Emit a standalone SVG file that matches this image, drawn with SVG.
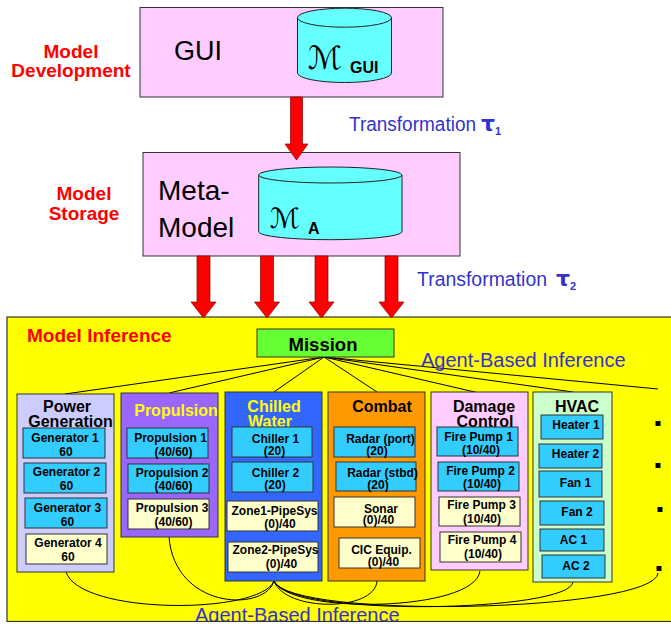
<svg xmlns="http://www.w3.org/2000/svg" width="671" height="624" viewBox="0 0 671 624">
<defs>
<style>
.t{font-family:"Liberation Sans",Arial,sans-serif}
.red{fill:#ff0000;font-weight:bold;font-size:19px;text-anchor:middle}
.blue{fill:#3333cc;font-size:20px}
.box{stroke:#333;stroke-width:1}
.pink{fill:#ffccff}
.cylf{fill:#66ffff;stroke:#222;stroke-width:1}
.arrow{fill:#ff0000;stroke:#8b0000;stroke-width:0.7}
.conn{fill:none;stroke:#000;stroke-width:1}
.col{stroke:#333;stroke-width:1}
.ttl{font-family:"Liberation Sans",Arial,sans-serif;font-weight:bold;font-size:16px;text-anchor:middle}
.it{font-family:"Liberation Sans",Arial,sans-serif;font-weight:bold;font-size:12px;text-anchor:middle;fill:#000}
.cy{fill:#33ccff;stroke:#333;stroke-width:1}
.ly{fill:#ffffcc;stroke:#333;stroke-width:1}
.scr{font-family:"DejaVu Sans",sans-serif}
.tau{font-family:"DejaVu Sans",sans-serif;font-weight:bold;fill:#3333cc}
</style>
</defs>

<!-- side labels -->
<g id="label-dev">
<text class="t red" x="71" y="58">Model</text>
<text class="t red" x="71" y="77">Development</text>
</g>
<g id="label-storage">
<text class="t red" x="84" y="200">Model</text>
<text class="t red" x="84" y="220">Storage</text>
</g>

<!-- Yellow inference area -->
<g id="model-inference">
<rect x="7" y="317" width="670" height="304.5" fill="#ffff00" stroke="#333" stroke-width="1.2"/>
<text class="t" x="27" y="342" fill="#ff0000" font-weight="bold" font-size="19">Model Inference</text>
</g>

<!-- GUI node -->
<g id="gui">
<rect class="box pink" x="140" y="7.5" width="303" height="89.5"/>
<text class="t" x="174" y="60" font-size="27">GUI</text>
<path class="cylf" d="M297.5,17.7 L297.5,73 A47,9.5 0 0 0 391.5,73 L391.5,17.7 Z"/>
<ellipse class="cylf" cx="344.5" cy="17.7" rx="47" ry="9.5"/>
<text class="scr" x="308" y="69" font-size="32">ℳ</text>
<text class="t" x="350" y="73" font-size="16" font-weight="bold">GUI</text>
</g>

<!-- Meta-model node -->
<g id="meta-model">
<rect class="box pink" x="143" y="152.5" width="317" height="103.5"/>
<text class="t" x="158" y="200" font-size="28">Meta-</text>
<text class="t" x="158" y="237" font-size="28">Model</text>
<path class="cylf" d="M258.7,175 L258.7,232 A71.7,8 0 0 0 402,232 L402,175 Z"/>
<ellipse class="cylf" cx="330.3" cy="175" rx="71.7" ry="8"/>
<text class="scr" x="270" y="228" font-size="28">ℳ</text>
<text class="t" x="308" y="234" font-size="16" font-weight="bold">A</text>
</g>

<!-- transformation labels -->
<g id="label-t1">
<text class="t blue" x="349" y="131" font-size="19.5" textLength="127" lengthAdjust="spacingAndGlyphs">Transformation</text>
<text class="tau" x="481" y="131" font-size="22">τ</text>
<text class="t" x="495" y="135" fill="#3333cc" font-size="11" font-weight="bold">1</text>
</g>
<g id="label-t2">
<text class="t blue" x="417" y="286" font-size="19.5" textLength="130" lengthAdjust="spacingAndGlyphs">Transformation</text>
<text class="tau" x="556" y="286" font-size="22">τ</text>
<text class="t" x="570" y="290" fill="#3333cc" font-size="11" font-weight="bold">2</text>
</g>

<!-- connectors -->
<g id="connectors">
<polygon class="arrow" points="290.5,97 302.5,97 302.5,144 308,144 296.5,160 285,144 290.5,144"/>
<polygon class="arrow" points="197,256 210,256 210,302 216,302 203.5,318 191,302 197,302"/>
<polygon class="arrow" points="260.5,256 273.5,256 273.5,302 279.5,302 267,318 254.5,302 260.5,302"/>
<polygon class="arrow" points="315,256 328,256 328,302 334,302 321.5,318 309,302 315,302"/>
<polygon class="arrow" points="385,256 398,256 398,302 404,302 391.5,318 379,302 385,302"/>
<path class="conn" d="M324,357 L65,394 M324,357 L169,393 M324,357 L274,392 M324,357 L377,392 M324,357 L479,393 M324,357 L573,392 M324,357 L658,389"/>
<path class="conn" d="M274,581 C260,615 80,615 66,572"/>
<path class="conn" d="M274,581 C265,612 175,610 169,537"/>
<path class="conn" d="M274,581 C285,612 375,612 377,581"/>
<path class="conn" d="M274,581 C290,615 475,612 480,571"/>
<path class="conn" d="M274,581 C290,618 570,612 573,582"/>
<path class="conn" d="M274,581 C290,620 655,612 658,573"/>
</g>

<g id="inference-labels">
<text class="t blue" x="421" y="367">Agent-Based Inference</text>
<text class="t blue" x="195" y="622">Agent-Based Inference</text>
<rect x="0" y="622" width="671" height="2" fill="#ffffff"/>
<line x1="7" y1="621.5" x2="671" y2="621.5" stroke="#333" stroke-width="1.2"/>
</g>

<!-- Mission -->
<g id="mission">
<rect class="box" x="257" y="329" width="137" height="28" fill="#66ff33"/>
<text class="t" x="323" y="351" font-size="18.5" font-weight="bold" text-anchor="middle">Mission</text>
</g>

<!-- Power Generation -->
<g id="power-generation">
<rect class="col" x="17" y="394" width="97" height="178" fill="#ccccff"/>
<text class="ttl" x="67" y="412">Power</text>
<text class="ttl" x="70.5" y="427">Generation</text>
<rect class="cy" x="23" y="428" width="82" height="30"/>
<text class="it" x="65" y="442">Generator 1</text><text class="it" x="66" y="456">60</text>
<rect class="cy" x="24" y="463" width="82" height="30"/>
<text class="it" x="66.5" y="476">Generator 2</text><text class="it" x="66.5" y="490">60</text>
<rect class="cy" x="25" y="498" width="82" height="30"/>
<text class="it" x="67.5" y="512">Generator 3</text><text class="it" x="67.5" y="526">60</text>
<rect class="ly" x="26" y="534" width="81" height="30"/>
<text class="it" x="68" y="547">Generator 4</text><text class="it" x="68" y="561">60</text>
</g>

<!-- Propulsion -->
<g id="propulsion">
<rect class="col" x="121" y="393" width="97" height="144" fill="#9966ff"/>
<text class="ttl" x="176" y="416" fill="#ffff00">Propulsion</text>
<rect class="cy" x="127" y="428" width="81" height="30"/>
<text class="it" x="170.5" y="442">Propulsion 1</text><text class="it" x="173.5" y="456">(40/60)</text>
<rect class="cy" x="128" y="464" width="81" height="29"/>
<text class="it" x="172" y="477">Propulsion 2</text><text class="it" x="173.5" y="490">(40/60)</text>
<rect class="ly" x="128" y="499" width="81" height="30"/>
<text class="it" x="172" y="512">Propulsion 3</text><text class="it" x="173.5" y="526">(40/60)</text>
</g>

<!-- Chilled Water -->
<g id="chilled-water">
<rect class="col" x="225" y="392" width="97" height="189" fill="#3366ff"/>
<text class="ttl" x="274" y="412" fill="#ffff00">Chilled</text>
<text class="ttl" x="270" y="427" fill="#ffff00">Water</text>
<rect class="cy" x="232" y="427" width="80" height="30"/>
<text class="it" x="275.5" y="443" font-size="15">Chiller 1</text><text class="it" x="274.5" y="455">(20)</text>
<rect class="cy" x="232" y="462" width="81" height="30"/>
<text class="it" x="275.5" y="477" font-size="15">Chiller 2</text><text class="it" x="275" y="489">(20)</text>
<rect class="ly" x="227" y="501" width="91" height="30"/>
<text class="it" x="274.5" y="515">Zone1-PipeSys</text><text class="it" x="280" y="528">(0)/40</text>
<rect class="ly" x="228" y="542" width="90" height="30"/>
<text class="it" x="275.5" y="554">Zone2-PipeSys</text><text class="it" x="281.5" y="568">(0)/40</text>
</g>

<!-- Combat -->
<g id="combat">
<rect class="col" x="328" y="392" width="97" height="189" fill="#ff9900"/>
<text class="ttl" x="382" y="412">Combat</text>
<rect class="cy" x="334" y="427" width="81" height="30"/>
<text class="it" x="380.5" y="443" font-size="13.5">Radar (port)</text><text class="it" x="377" y="455">(20)</text>
<rect class="cy" x="336" y="462" width="80" height="29"/>
<text class="it" x="382.5" y="477" font-size="13.5">Radar (stbd)</text><text class="it" x="378" y="489">(20)</text>
<rect class="ly" x="334" y="497" width="81" height="30"/>
<text class="it" x="381" y="513" font-size="15">Sonar</text><text class="it" x="378.5" y="524">(0)/40</text>
<rect class="ly" x="339" y="538" width="81" height="30"/>
<text class="it" x="381.5" y="554" font-size="13">CIC Equip.</text><text class="it" x="383.5" y="566">(0)/40</text>
</g>

<!-- Damage Control -->
<g id="damage-control">
<rect class="col" x="431" y="392" width="97" height="178" fill="#ffccff"/>
<text class="ttl" x="484" y="412">Damage</text>
<text class="ttl" x="485" y="427">Control</text>
<rect class="cy" x="437" y="427" width="81" height="29"/>
<text class="it" x="478.5" y="441">Fire Pump 1</text><text class="it" x="481" y="454">(10/40)</text>
<rect class="cy" x="438" y="462" width="81" height="29"/>
<text class="it" x="480.5" y="475">Fire Pump 2</text><text class="it" x="482" y="488">(10/40)</text>
<rect class="ly" x="439" y="497" width="81" height="29"/>
<text class="it" x="481.5" y="509">Fire Pump 3</text><text class="it" x="482" y="523">(10/40)</text>
<rect class="ly" x="440" y="532" width="81" height="30"/>
<text class="it" x="482" y="544">Fire Pump 4</text><text class="it" x="483" y="558">(10/40)</text>
</g>

<!-- HVAC -->
<g id="hvac">
<rect class="col" x="533" y="392" width="79" height="190" fill="#ccffcc"/>
<text class="ttl" x="577" y="412">HVAC</text>
<rect class="cy" x="541" y="415" width="62" height="24"/>
<text class="it" x="576" y="429" font-size="13.5">Heater 1</text>
<rect class="cy" x="539" y="444" width="63" height="24"/>
<text class="it" x="575.5" y="458" font-size="13.5">Heater 2</text>
<rect class="cy" x="539" y="471" width="63" height="26"/>
<text class="it" x="575.5" y="487" font-size="14.5">Fan 1</text>
<rect class="cy" x="540" y="501" width="64" height="24"/>
<text class="it" x="577" y="516" font-size="14.5">Fan 2</text>
<rect class="cy" x="540" y="529" width="64" height="22"/>
<text class="it" x="573.5" y="544" font-size="14">AC 1</text>
<rect class="cy" x="542" y="555" width="63" height="23"/>
<text class="it" x="576" y="570" font-size="14">AC 2</text>
</g>

<!-- more bullets -->
<g id="more" font-family="DejaVu Sans,sans-serif" font-size="10" fill="#000" text-anchor="middle">
<text x="658" y="426">▪</text>
<text x="658" y="468">▪</text>
<text x="660" y="512">▪</text>
<text x="659" y="571">▪</text>
</g>
</svg>
